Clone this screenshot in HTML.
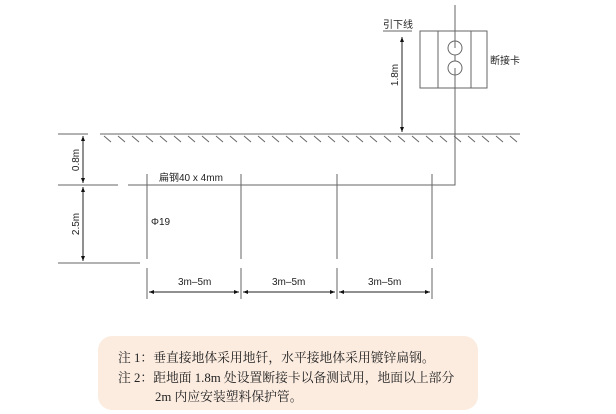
<!DOCTYPE html>
<html><head><meta charset="utf-8"><style>
body{margin:0;background:#fff;width:616px;height:414px;overflow:hidden;position:relative}
.note{position:absolute;left:98px;top:336px;width:380px;height:74px;background:#fcece0;border-radius:14px}
.note div{position:absolute;left:20px;font:12.8px "Liberation Serif","Noto Serif CJK SC",serif;color:#222;white-space:nowrap}
</style></head><body>
<svg width="616" height="414" style="position:absolute;left:0;top:0" font-family="Liberation Sans, Noto Sans CJK SC, sans-serif">
<defs><marker id="a" viewBox="0 0 10 10" refX="10" refY="5" markerWidth="7" markerHeight="5" orient="auto-start-reverse"><path d="M0,1 L10,5 L0,9z" fill="#111"/></marker></defs>
<g stroke="#666" stroke-width="1" fill="none">
<line x1="58" y1="134" x2="88" y2="134"/>
<line x1="100" y1="134" x2="520" y2="134"/>
<path d="M104,136 l7,6 M118,136 l7,6 M132,136 l7,6 M146,136 l7,6 M160,136 l7,6 M174,136 l7,6 M188,136 l7,6 M202,136 l7,6 M216,136 l7,6 M230,136 l7,6 M244,136 l7,6 M258,136 l7,6 M272,136 l7,6 M286,136 l7,6 M300,136 l7,6 M314,136 l7,6 M328,136 l7,6 M342,136 l7,6 M356,136 l7,6 M370,136 l7,6 M384,136 l7,6 M398,136 l7,6 M412,136 l7,6 M426,136 l7,6 M440,136 l7,6 M454,136 l7,6 M468,136 l7,6 M482,136 l7,6 M496,136 l7,6 M510,136 l7,6"/>
<line x1="58" y1="185" x2="118" y2="185"/>
<polyline points="128,185 455,185 455,5"/>
<line x1="58" y1="263" x2="140" y2="263"/>
<line x1="147" y1="174" x2="147" y2="259"/>
<line x1="241" y1="174" x2="241" y2="259"/>
<line x1="337" y1="174" x2="337" y2="259"/>
<line x1="432" y1="174" x2="432" y2="259"/>
<line x1="147" y1="268" x2="147" y2="299"/>
<line x1="241" y1="268" x2="241" y2="299"/>
<line x1="337" y1="268" x2="337" y2="299"/>
<line x1="432" y1="268" x2="432" y2="299"/>
<rect x="420" y="31" width="67" height="57"/>
<line x1="438" y1="31" x2="438" y2="88"/><line x1="471" y1="31" x2="471" y2="88"/>
<circle cx="455" cy="48" r="7" fill="#fff"/><circle cx="455" cy="68" r="7" fill="#fff"/>
<line x1="455" y1="5" x2="455" y2="48"/><line x1="455" y1="68" x2="455" y2="88"/>
<line x1="383" y1="31" x2="412" y2="31"/>
</g>
<g stroke="#222" stroke-width="1" marker-start="url(#a)" marker-end="url(#a)">
<line x1="83" y1="136" x2="83" y2="183"/>
<line x1="83" y1="187" x2="83" y2="261"/>
<line x1="402" y1="37" x2="402" y2="132"/>
<line x1="149" y1="292" x2="239" y2="292"/>
<line x1="243" y1="292" x2="335" y2="292"/>
<line x1="339" y1="292" x2="430" y2="292"/>
</g>
<g font-size="10" fill="#222">
<text x="383" y="28">引下线</text>
<text x="490" y="64">断接卡</text>
<text x="159" y="181">扁钢40 x 4mm</text>
<text x="151" y="225">Φ19</text>
<text x="178" y="285">3m–5m</text>
<text x="272" y="285">3m–5m</text>
<text x="368" y="285">3m–5m</text>
<text transform="translate(79,160) rotate(-90)" text-anchor="middle">0.8m</text>
<text transform="translate(79,224) rotate(-90)" text-anchor="middle">2.5m</text>
<text transform="translate(398,75) rotate(-90)" text-anchor="middle">1.8m</text>
</g>
</svg>
<div class="note">
<div style="top:11px">注 1：垂直接地体采用地钎，水平接地体采用镀锌扁钢。</div>
<div style="top:31px">注 2：距地面 1.8m 处设置断接卡以备测试用，地面以上部分</div>
<div style="top:50px;left:57px">2m 内应安装塑料保护管。</div>
</div>
</body></html>
